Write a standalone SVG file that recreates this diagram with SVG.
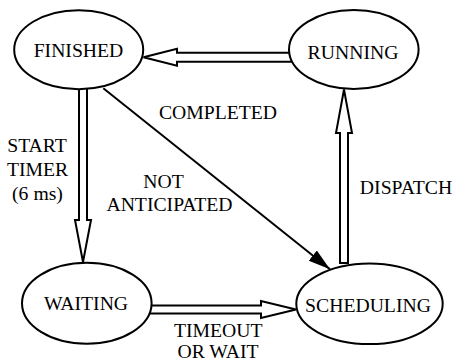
<svg xmlns="http://www.w3.org/2000/svg" width="454" height="361" viewBox="0 0 454 361">
  <style>
    .node ellipse { fill: #fff; stroke: #000; stroke-width: 2; }
    .hollow { fill: #fff; stroke: #000; stroke-width: 2; stroke-linejoin: miter; }
    .line { fill: none; stroke: #000; stroke-width: 2; }
    text { font-family: "Liberation Serif", "Times New Roman", serif; font-size: 19.7px; fill: #000; text-anchor: middle; }
  </style>
  <defs>
    <marker id="solid" markerUnits="userSpaceOnUse" markerWidth="24" markerHeight="14" refX="22" refY="6.5" orient="auto">
      <path d="M0,0 L22,6.5 L0,13 Z" fill="#000"/>
    </marker>
  </defs>

  <g id="connectors">
    <!-- RUNNING to FINISHED -->
    <polygon class="hollow" points="143.5,57.2 177,48.7 177,52.7 292,52.7 292,61.7 177,61.7 177,65.7"/>
    <!-- FINISHED to WAITING -->
    <polygon class="hollow" points="83,262 75,220 79,220 79,86 87,86 87,220 91,220"/>
    <!-- SCHEDULING to RUNNING -->
    <polygon class="hollow" points="344,89.5 336,133 340,133 340,263 348,263 348,133 352,133"/>
    <!-- WAITING to SCHEDULING -->
    <polygon class="hollow" points="296,309.5 261,301 261,305.5 148,305.5 148,313.5 261,313.5 261,318"/>
    <!-- FINISHED to SCHEDULING -->
    <line class="line" x1="103.3" y1="88.3" x2="330" y2="269.3" marker-end="url(#solid)"/>
  </g>

  <g id="finished" class="node">
    <ellipse cx="78.7" cy="49.7" rx="64.5" ry="39.5"/>
    <text x="78.5" y="56.7">FINISHED</text>
  </g>
  <g id="running" class="node">
    <ellipse cx="353.8" cy="49.5" rx="64.8" ry="39.5"/>
    <text x="353" y="59">RUNNING</text>
  </g>
  <g id="waiting" class="node">
    <ellipse cx="86.8" cy="303.3" rx="64.8" ry="40.5"/>
    <text x="86" y="310">WAITING</text>
  </g>
  <g id="scheduling" class="node">
    <ellipse cx="369.5" cy="303.8" rx="73.2" ry="40.3"/>
    <text x="368" y="311.5">SCHEDULING</text>
  </g>

  <g id="labels">
    <text x="218" y="119">COMPLETED</text>
    <text x="37" y="152">START</text>
    <text x="37.5" y="176">TIMER</text>
    <text x="37.5" y="200">(6 ms)</text>
    <text x="163.5" y="188.3">NOT</text>
    <text x="169.5" y="210.7">ANTICIPATED</text>
    <text x="406" y="194">DISPATCH</text>
    <text x="218.3" y="336.7">TIMEOUT</text>
    <text x="218" y="358.3">OR WAIT</text>
  </g>
</svg>
